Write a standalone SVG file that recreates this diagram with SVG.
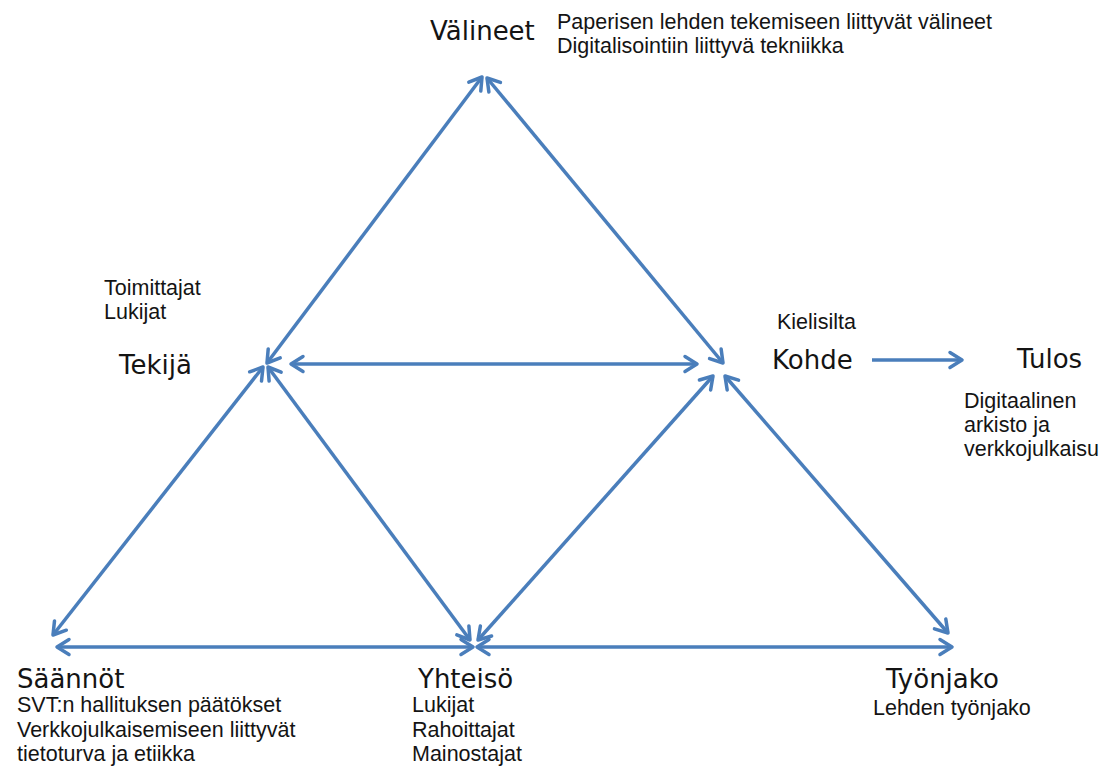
<svg xmlns="http://www.w3.org/2000/svg" width="1110" height="767" viewBox="0 0 1110 767">
<style>
.big{font-family:"DejaVu Sans",sans-serif;font-size:26px;fill:#141414}
.small{font-family:"Liberation Sans",Arial,sans-serif;font-size:21.5px;fill:#141414}
.conn line{stroke:#4a7ebb;stroke-width:3.5;fill:none}
</style>
<defs>
<marker id="ah" markerUnits="userSpaceOnUse" markerWidth="24" markerHeight="24" viewBox="-16 -12 24 24" refX="0" refY="0" orient="auto-start-reverse" overflow="visible">
<path d="M-12,-7.5 L0,0 L-12,7.5" fill="none" stroke="#4a7ebb" stroke-width="3.5" stroke-linejoin="round" stroke-linecap="round"/>
</marker>
</defs>
<rect width="1110" height="767" fill="#ffffff"/>
<g id="connectors" class="conn">
<line x1="267" y1="363" x2="482" y2="77" marker-start="url(#ah)" marker-end="url(#ah)"/>
<line x1="487" y1="78" x2="723" y2="363" marker-start="url(#ah)" marker-end="url(#ah)"/>
<line x1="291" y1="364" x2="697" y2="364" marker-start="url(#ah)" marker-end="url(#ah)"/>
<line x1="263" y1="367" x2="53" y2="635" marker-start="url(#ah)" marker-end="url(#ah)"/>
<line x1="268" y1="367" x2="470" y2="640" marker-start="url(#ah)" marker-end="url(#ah)"/>
<line x1="478" y1="640" x2="713" y2="376" marker-start="url(#ah)" marker-end="url(#ah)"/>
<line x1="725" y1="376" x2="948" y2="633" marker-start="url(#ah)" marker-end="url(#ah)"/>
<line x1="57" y1="647" x2="473" y2="647" marker-start="url(#ah)" marker-end="url(#ah)"/>
<line x1="477" y1="647" x2="952" y2="647" marker-start="url(#ah)" marker-end="url(#ah)"/>
<line x1="872" y1="360" x2="962" y2="360" marker-end="url(#ah)"/>
</g>
<g id="valineet">
<text class="big" x="430" y="40">Välineet</text>
<text class="small" x="557" y="29">Paperisen lehden tekemiseen liittyvät välineet</text>
<text class="small" x="557" y="53">Digitalisointiin liittyvä tekniikka</text>
</g>
<g id="tekija">
<text class="small" x="104" y="295">Toimittajat</text>
<text class="small" x="104" y="319">Lukijat</text>
<text class="big" x="119" y="374">Tekijä</text>
</g>
<g id="kohde">
<text class="small" x="777" y="329">Kielisilta</text>
<text class="big" x="772" y="369">Kohde</text>
</g>
<g id="tulos">
<text class="big" x="1017" y="368">Tulos</text>
<text class="small" x="964" y="408">Digitaalinen</text>
<text class="small" x="964" y="432">arkisto ja</text>
<text class="small" x="964" y="456">verkkojulkaisu</text>
</g>
<g id="saannot">
<text class="big" x="17" y="688">Säännöt</text>
<text class="small" x="17" y="712">SVT:n hallituksen päätökset</text>
<text class="small" x="17" y="737">Verkkojulkaisemiseen liittyvät</text>
<text class="small" x="17" y="761">tietoturva ja etiikka</text>
</g>
<g id="yhteiso">
<text class="big" x="418" y="688">Yhteisö</text>
<text class="small" x="412" y="712">Lukijat</text>
<text class="small" x="412" y="737">Rahoittajat</text>
<text class="small" x="412" y="761">Mainostajat</text>
</g>
<g id="tyonjako">
<text class="big" x="886" y="688">Työnjako</text>
<text class="small" x="873" y="715">Lehden työnjako</text>
</g>
</svg>
